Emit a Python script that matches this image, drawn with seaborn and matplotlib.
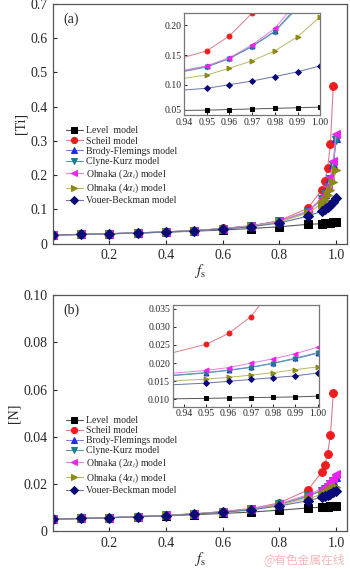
""" Solute enrichment [Ti] and [N] vs solid fraction for seven microsegregation models """

import matplotlib
matplotlib.use("Agg")
import matplotlib.pyplot as plt
import seaborn as sns

# solid fraction points (Scheil stops at 0.99)
fs = [0.0, 0.1, 0.2, 0.3, 0.4, 0.5, 0.6, 0.7, 0.8, 0.9, 0.95, 0.96, 0.97, 0.98, 0.99, 1.0]

# [Ti]
level_ti = [0.025, 0.0266, 0.0285, 0.0307, 0.0332, 0.0361, 0.0396, 0.0439, 0.049, 0.056, 0.058, 0.059, 0.060, 0.061, 0.062, 0.063]
scheil_ti = [0.025, 0.0267, 0.0287, 0.0311, 0.0342, 0.038, 0.044, 0.052, 0.067, 0.103, 0.157, 0.182, 0.22, 0.29, 0.46]
bf_ti = [0.025, 0.0267, 0.0287, 0.031, 0.034, 0.0378, 0.0435, 0.0515, 0.065, 0.094, 0.131, 0.145, 0.165, 0.19, 0.232, 0.308]
ck_ti = [0.025, 0.0267, 0.0287, 0.031, 0.034, 0.0377, 0.0434, 0.0512, 0.0645, 0.093, 0.130, 0.144, 0.164, 0.189, 0.229, 0.302]
o2_ti = [0.025, 0.0267, 0.0287, 0.031, 0.034, 0.0378, 0.0436, 0.0516, 0.0652, 0.095, 0.132, 0.1455, 0.167, 0.1945, 0.24, 0.32]
o4_ti = [0.025, 0.0267, 0.0286, 0.031, 0.0339, 0.0375, 0.043, 0.050, 0.063, 0.089, 0.1167, 0.128, 0.1405, 0.157, 0.1805, 0.214]
vb_ti = [0.025, 0.0266, 0.0286, 0.0309, 0.0337, 0.0372, 0.0423, 0.049, 0.060, 0.080, 0.0945, 0.1005, 0.1067, 0.114, 0.122, 0.132]

# [N]
level_n = [0.0052, 0.0055, 0.0058, 0.0062, 0.0066, 0.0071, 0.0076, 0.0082, 0.009, 0.0099, 0.0103, 0.0104, 0.0105, 0.0106, 0.0107, 0.0109]
scheil_n = [0.0052, 0.0055, 0.0058, 0.0063, 0.0068, 0.0075, 0.0084, 0.0097, 0.0121, 0.0175, 0.0252, 0.0282, 0.0328, 0.0408, 0.0584]
bf_n = [0.0052, 0.0055, 0.0058, 0.0063, 0.0068, 0.0074, 0.0083, 0.0095, 0.0115, 0.0150, 0.0174, 0.0181, 0.0189, 0.0200, 0.0214, 0.0229]
ck_n = [0.0052, 0.0055, 0.0058, 0.0063, 0.0068, 0.0074, 0.0083, 0.0094, 0.0114, 0.0148, 0.0173, 0.0180, 0.0188, 0.0199, 0.0212, 0.0227]
o2_n = [0.0052, 0.0055, 0.0058, 0.0063, 0.0068, 0.0074, 0.0083, 0.0096, 0.0117, 0.0155, 0.0180, 0.0188, 0.0200, 0.0212, 0.0226, 0.0244]
o4_n = [0.0052, 0.0055, 0.0058, 0.0063, 0.0068, 0.0074, 0.0082, 0.0093, 0.0112, 0.0140, 0.0156, 0.0161, 0.0167, 0.0174, 0.0182, 0.0190]
vb_n = [0.0052, 0.0055, 0.0058, 0.0062, 0.0067, 0.0073, 0.0081, 0.0091, 0.0108, 0.0130, 0.0145, 0.0150, 0.0155, 0.0160, 0.0165, 0.0173]

labels = ["Level  model", "Scheil model", "Brody-Flemings model", "Clyne-Kurz model",
          r"Ohnaka (2$\alpha_i$) model", r"Ohnaka (4$\alpha_i$) model", "Vouer-Beckman model"]
markers = ["s", "o", "^", "v", "<", ">", "D"]
mcolors = ["#000000", "#ee1c1c", "#1f2fe0", "#1a7f8f", "#ee22ee", "#8a8a10", "#0a0a78"]
lcolors = ["#555555", "#e07a8a", "#7a7ad8", "#5a9aaa", "#e080e0", "#b8b868", "#6a72a8"]

sns.set_style("ticks")
plt.rcParams['font.family'] = ['Liberation Serif', 'DejaVu Serif']
plt.rcParams['mathtext.fontset'] = 'stix'
plt.rcParams['xtick.direction'] = 'in'
plt.rcParams['ytick.direction'] = 'in'


def draw(ax, series, ms, lw, with_labels):
    for i, vals in enumerate(series):
        sns.lineplot(x=fs[:len(vals)], y=vals, ax=ax, color=lcolors[i], linewidth=lw,
                     marker=markers[i], markersize=ms * (0.85 if markers[i] == "D" else 1),
                     markerfacecolor=mcolors[i], markeredgecolor=mcolors[i],
                     label=labels[i] if with_labels else None, legend=False)


def frame(ax, color):
    for s in ax.spines.values():
        s.set_color(color)
        s.set_linewidth(0.9)


fig = plt.figure(figsize=(3.5, 5.69), dpi=100)
ax_a = fig.add_axes([0.151, 0.572, 0.840, 0.421])
ax_b = fig.add_axes([0.151, 0.066, 0.840, 0.4155])

panels = [
    (ax_a, [level_ti, scheil_ti, bf_ti, ck_ti, o2_ti, o4_ti, vb_ti], (0, 0.7),
     [0, 0.1, 0.2, 0.3, 0.4, 0.5, 0.6, 0.7], ["0", "0.1", "0.2", "0.3", "0.4", "0.5", "0.6", "0.7"],
     "[Ti]", "(a)"),
    (ax_b, [level_n, scheil_n, bf_n, ck_n, o2_n, o4_n, vb_n], (0, 0.10),
     [0, 0.02, 0.04, 0.06, 0.08, 0.10], ["0", "0.02", "0.04", "0.06", "0.08", "0.10"],
     "[N]", "(b)"),
]

for ax, series, ylim, yt, ytl, ylab, tag in panels:
    draw(ax, series, 5.6, 0.8, True)
    ax.set_xlim(0, 1.038)
    ax.set_ylim(*ylim)
    ax.set_xticks([0.2, 0.4, 0.6, 0.8, 1.0])
    ax.set_xticklabels(["0.2", "0.4", "0.6", "0.8", "1.0"], fontsize=10)
    ax.set_yticks(yt)
    ax.set_yticklabels(ytl, fontsize=10)
    ax.tick_params(length=3, width=0.8, pad=4)
    ax.set_ylabel(ylab, fontsize=10, labelpad=2)
    ax.set_xlabel(r"$f_\mathrm{s}$", fontsize=11, labelpad=0)
    ax.text(0.035, 0.965, tag, transform=ax.transAxes, fontsize=10, va="top")
    frame(ax, "#555555")
    ax.legend(loc="upper left", bbox_to_anchor=(0.03, 0.505), frameon=False,
              fontsize=7, labelspacing=0.12, handlelength=1.8, handletextpad=0.3,
              borderaxespad=0.0, markerscale=0.8)

# insets
in_a = fig.add_axes([0.526, 0.798, 0.389, 0.179])
draw(in_a, panels[0][1], 3.5, 0.7, False)
in_a.set_xlim(0.94, 1.0)
in_a.set_ylim(0.05, 0.22)
in_a.set_yticks([0.05, 0.10, 0.15, 0.20])
in_a.set_yticklabels(["0.05", "0.10", "0.15", "0.20"])

in_b = fig.add_axes([0.494, 0.2852, 0.417, 0.1787])
draw(in_b, panels[1][1], 3.5, 0.7, False)
in_b.set_xlim(0.935, 1.0005)
in_b.set_ylim(0.008, 0.036)
in_b.set_yticks([0.010, 0.015, 0.020, 0.025, 0.030, 0.035])
in_b.set_yticklabels(["0.010", "0.015", "0.020", "0.025", "0.030", "0.035"])

for ax in (in_a, in_b):
    ax.set_xticks([0.94, 0.95, 0.96, 0.97, 0.98, 0.99, 1.00])
    ax.set_xticklabels(["0.94", "0.95", "0.96", "0.97", "0.98", "0.99", "1.00"])
    ax.tick_params(labelsize=7, length=2.5, width=0.7, pad=2)
    frame(ax, "#777777")
# the lowest y label of inset (a) sits just above the x labels
in_a.get_yticklabels()[0].set_verticalalignment("bottom")

fig.text(0.985, 0.006, "@有色金属在线", ha="right", va="bottom", color="#f2b8bc",
         fontsize=8.5, family=["Noto Sans CJK SC", "DejaVu Sans"])

fig.savefig("out.png", dpi=100)
